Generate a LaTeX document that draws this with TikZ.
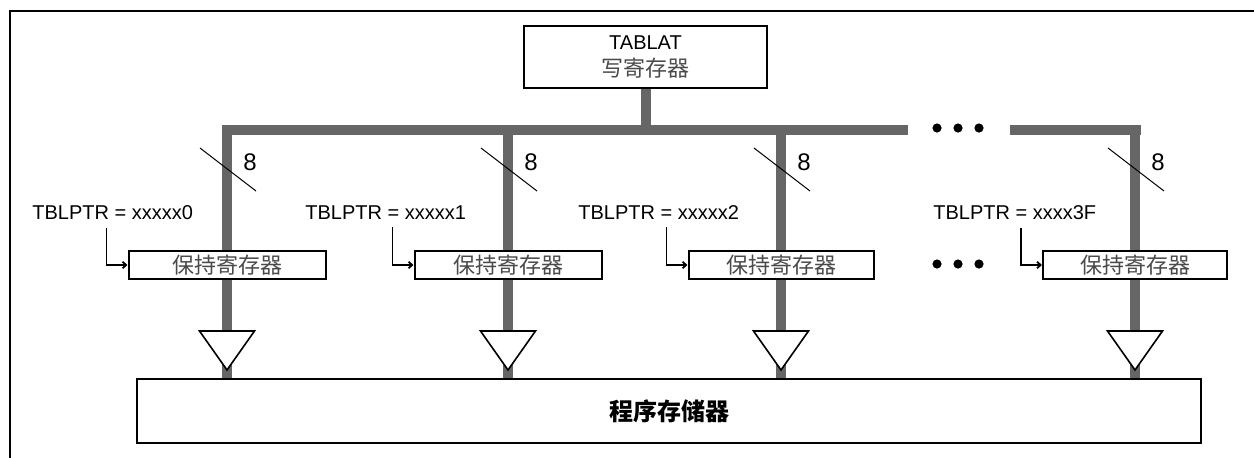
\documentclass[tikz,border=0pt]{standalone}
\usepackage{fontspec}
\setmainfont{Liberation Sans}
\newfontfamily\cjk{Noto Sans CJK SC}
\usetikzlibrary{arrows.meta}
\definecolor{busgray}{HTML}{666666}
\definecolor{cjkgray}{HTML}{4A4A4A}

\begin{document}
\begin{tikzpicture}[
    x=0.5pt, y=-0.5pt,
    frame/.style={line width=1pt},
    regbox/.style={draw, line width=1pt, fill=white, minimum height=14pt, inner sep=0pt, font=\cjk\fontsize{11}{12}\selectfont, text=cjkgray},
    busline/.style={line width=5pt, draw=busgray},
    ptr/.style={-{Straight Barb[length=1.8pt,width=3.2pt]}, line width=0.9pt},
    ptrlabel/.style={anchor=base west, inner sep=0pt, font=\fontsize{10}{12}\selectfont},
    widthlabel/.style={font=\fontsize{12}{14}\selectfont, inner sep=0pt},
    buffer/.style={draw, fill=white, line width=0.8pt, line join=miter}
  ]
  \useasboundingbox (0,0) rectangle (1254,457);
  \clip (0,0) rectangle (1254,457);
  % outer frame, cut off at right and bottom
  \draw[frame] (10,470) |- (1270,11);

  \node[draw, line width=1pt, minimum width=121.5pt, minimum height=31pt, align=center, font=\fontsize{10}{13.5}\selectfont] (tablat) at (645.5,57) {TABLAT\\{\cjk\fontsize{11}{13.5}\selectfont\color{cjkgray}写寄存器}};
  \node[draw, line width=1pt, minimum width=532pt, minimum height=32pt, font=\cjk\bfseries\fontsize{12}{14}\selectfont] (mem) at (669,411) {程序存储器};

  % data bus
  \coordinate (bus) at (0,130);
  \draw[busline] (tablat.south) -- (tablat.south |- bus);
  \draw[busline] (222,130) -- (908,130);
  \draw[busline] (1010,130) -- (1140.5,130);
  \foreach \dx in {937,958,979} {
    \fill (\dx,128) circle (2.3pt);
    \fill (\dx,264) circle (2.3pt);
  }

  % one column per holding register
  \foreach \cx/\bw/\lx/\addr/\n in {227/98.5pt/32/xxxxx0/1, 508/93.5pt/305/xxxxx1/2, 781/92.5pt/578/xxxxx2/3, 1135/92pt/933/xxxx3F/4} {
    \draw[busline] (\cx,125) -- (\cx,0 |- mem.north);
    \draw[buffer] (\cx-27.5,331) -- (\cx+27.5,331) -- (\cx,370) -- cycle;
    \draw[line width=0.5pt] (\cx-27,148) -- (\cx+29,191);
    \node[widthlabel] (w\n) at (\cx+23,162) {8};
    \node[regbox, minimum width=\bw] (h\n) at (\cx,265) {保持寄存器};
    \node[ptrlabel] (p\n) at (\lx,219) {TBLPTR = \addr};
    \coordinate (s\n) at ([xshift=-10.5pt]h\n.west |- p\n.south);
    \draw[ptr] ([yshift=-4pt]s\n) |- (h\n.west);
  }
\end{tikzpicture}
\end{document}
